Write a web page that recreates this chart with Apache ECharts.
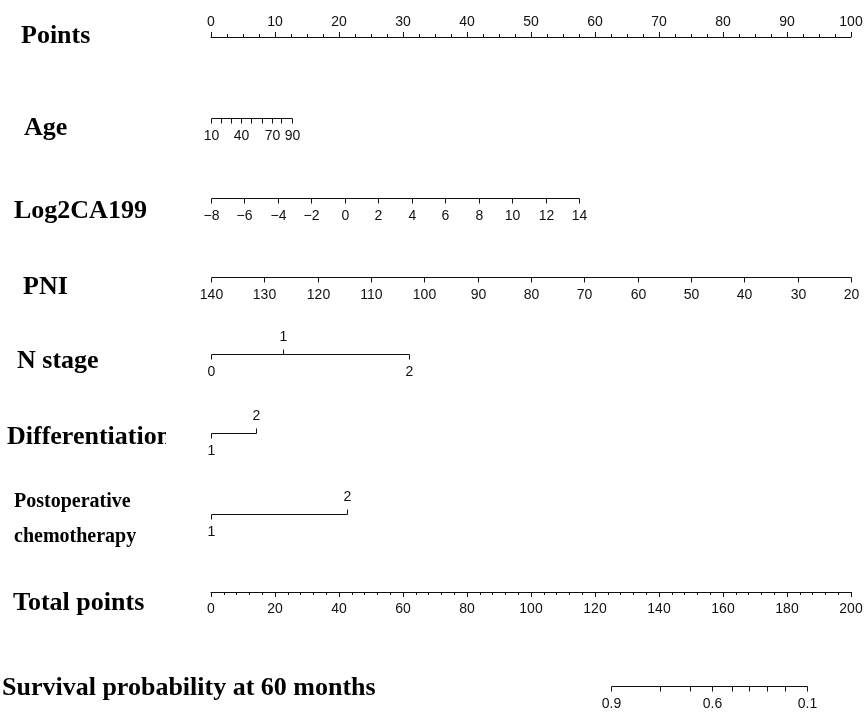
<!DOCTYPE html>
<html><head><meta charset="utf-8">
<script src="https://cdn.jsdelivr.net/npm/echarts@6/dist/echarts.min.js"></script>
<style>html,body{margin:0;padding:0;background:#fff}#c{width:868px;height:715px}</style>
</head><body><div id="c"></div>
<script>
// ---------------- data ----------------
const rowNames = ['Points','Age','Log2CA199','PNI','N stage','Differentiation','Postoperative\nchemotherapy','Total points','Survival probability at 60 months'];

const pointsMin = 0, pointsMax = 100, pointsStep = 10;
const totalMin = 0, totalMax = 200, totalStep = 20;

const ageValues = [10,20,30,40,50,60,70,80,90];
const agePoints = [0,1.6,3.2,4.7,6.3,7.9,9.5,11.0,12.6];
const ageShown = [10,40,70,90];

const ca199Values = [-8,-6,-4,-2,0,2,4,6,8,10,12,14];
const ca199Points = [0,5.2,10.5,15.7,20.9,26.1,31.4,36.6,41.8,47.0,52.3,57.5];

const pniValues = [140,130,120,110,100,90,80,70,60,50,40,30,20];
const pniPoints = [0,8.3,16.7,25,33.3,41.7,50,58.3,66.7,75,83.3,91.7,100];

const nStageValues = [0,1,2];
const nStagePoints = [0,11.2,31.0];

const diffValues = [1,2];
const diffPoints = [0,7.1];

const chemoValues = [1,2];
const chemoPoints = [0,21.2];

const survValues = [0.9,0.8,0.7,0.6,0.5,0.4,0.3,0.2,0.1];
const survTotalPoints = [125.1,140.2,149.6,156.5,162.7,168.2,173.6,179.4,186.4];
const survShown = [0.9,0.6,0.1];

// ---------------- layout / style ----------------
const TICK_FONT = '14px "Liberation Sans", Arial, sans-serif';
const INK = '#111';

function fmt(v) { return String(v).replace('-', '\u2212'); }

function rowSeries(values, pts, shown, sides, lineY, axisIdx) {
  const tickLen = 5;
  const data = pts.map((p, i) => [p, i]);
  return {
    type: 'custom', xAxisIndex: axisIdx, yAxisIndex: 0, clip: false, silent: true,
    data: data,
    renderItem: function (params, api) {
      const i = api.value(1);
      const x = Math.round(api.coord([api.value(0), 0])[0]) + 0.5;
      const y = lineY + 0.5;
      const up = sides[i] === 'above';
      const children = [{
        type: 'line',
        shape: { x1: x, y1: y, x2: x, y2: up ? y - tickLen : y + tickLen },
        style: { stroke: INK, lineWidth: 1 }
      }];
      if (shown.indexOf(values[i]) >= 0) {
        children.push({
          type: 'text',
          style: { text: fmt(values[i]), x: x, y: up ? lineY - 17 : lineY + 18,
                   align: 'center', verticalAlign: 'middle', font: TICK_FONT, fill: INK }
        });
      }
      if (i === 0) {
        const xEnd = Math.round(api.coord([pts[pts.length - 1], 0])[0]) + 0.5;
        children.push({ type: 'line', shape: { x1: x, y1: y, x2: xEnd, y2: y },
                        style: { stroke: INK, lineWidth: 1 } });
      }
      return { type: 'group', children: children };
    }
  };
}
function fill(n, s) { const a = []; for (let k = 0; k < n; k++) a.push(s); return a; }

const series = [
  rowSeries(ageValues, agePoints, ageShown, fill(ageValues.length, 'below'), 118, 0),
  rowSeries(ca199Values, ca199Points, ca199Values, fill(ca199Values.length, 'below'), 198, 0),
  rowSeries(pniValues, pniPoints, pniValues, fill(pniValues.length, 'below'), 277, 0),
  rowSeries(nStageValues, nStagePoints, nStageValues, ['below','above','below'], 354, 0),
  rowSeries(diffValues, diffPoints, diffValues, ['below','above'], 433, 0),
  rowSeries(chemoValues, chemoPoints, chemoValues, ['below','above'], 514, 0),
  rowSeries(survValues, survTotalPoints, survShown, fill(survValues.length, 'below'), 686, 1)
];

const nameLayout = [
  { x: 21, y: 36, font: 'bold 26px "Liberation Serif", serif' },
  { x: 24, y: 128, font: 'bold 26px "Liberation Serif", serif' },
  { x: 14, y: 211, font: 'bold 26px "Liberation Serif", serif' },
  { x: 23, y: 287, font: 'bold 26px "Liberation Serif", serif' },
  { x: 17, y: 361, font: 'bold 26px "Liberation Serif", serif' },
  { x: 7, y: 437, font: 'bold 26px "Liberation Serif", serif' },
  { x: 14, y: 519, font: 'bold 20px "Liberation Serif", serif', lineHeight: 35 },
  { x: 13, y: 603, font: 'bold 26px "Liberation Serif", serif' },
  { x: 2, y: 688, font: 'bold 26px "Liberation Serif", serif' }
];
const graphics = rowNames.map((n, i) => ({
  type: 'text', z: 10,
  style: { text: n, x: nameLayout[i].x, y: nameLayout[i].y, font: nameLayout[i].font,
           lineHeight: nameLayout[i].lineHeight, align: 'left', verticalAlign: 'middle', fill: '#000' }
}));
// clip the long "Differentiation" label as in the reference
graphics.push({ type: 'rect', z: 20, shape: { x: 166, y: 418, width: 40, height: 36 },
                style: { fill: '#fff' } });

const chart = echarts.init(document.getElementById('c'), null, { renderer: 'canvas' });
chart.setOption({
  animation: false,
  backgroundColor: '#fff',
  grid: { left: 211, right: 17, top: 37, bottom: 123 },
  xAxis: [
    { type: 'value', position: 'top', min: pointsMin, max: pointsMax, interval: pointsStep,
      axisLine: { show: true, onZero: false, lineStyle: { color: INK, width: 1 } },
      axisTick: { show: true, length: 5, lineStyle: { color: INK } },
      minorTick: { show: true, splitNumber: 4, length: 3, lineStyle: { color: INK } },
      splitLine: { show: false },
      axisLabel: { margin: 8, color: INK, fontSize: 14, fontFamily: '"Liberation Sans", Arial, sans-serif' } },
    { type: 'value', position: 'bottom', min: totalMin, max: totalMax, interval: totalStep,
      axisLine: { show: true, onZero: false, lineStyle: { color: INK, width: 1 } },
      axisTick: { show: true, length: 5, lineStyle: { color: INK } },
      minorTick: { show: true, splitNumber: 5, length: 3, lineStyle: { color: INK } },
      splitLine: { show: false },
      axisLabel: { margin: 10, color: INK, fontSize: 14, fontFamily: '"Liberation Sans", Arial, sans-serif' } }
  ],
  yAxis: { type: 'value', min: 0, max: 1, show: false },
  graphic: graphics,
  series: series
});
</script></body></html>
